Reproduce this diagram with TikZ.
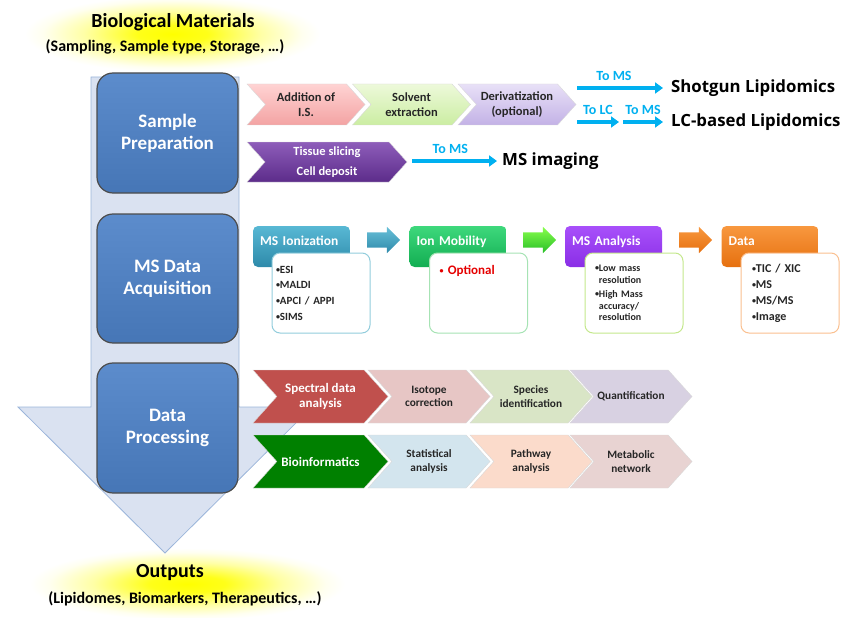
\documentclass[tikz,border=0pt]{standalone}
\usepackage{fontspec}
\setmainfont{Carlito}
\newfontfamily\widefont{Open Sans}
\usetikzlibrary{positioning, arrows.meta, calc, shapes.symbols, shapes.arrows}

\definecolor{bigfill}{HTML}{DAE2F1}
\definecolor{bigline}{HTML}{9BB5DA}
\definecolor{stagetop}{HTML}{5C8CCC}
\definecolor{stagebot}{HTML}{4676B6}
\definecolor{tocyan}{HTML}{00B0F0}
\definecolor{ionline}{HTML}{92CDDC}
\definecolor{mobline}{HTML}{A6E3B4}
\definecolor{analine}{HTML}{C4E88C}
\definecolor{dataline}{HTML}{FAC090}
\definecolor{iontop}{HTML}{58B8D4}
\definecolor{ionbot}{HTML}{2E8AAA}
\definecolor{mobtop}{HTML}{3ED87C}
\definecolor{mobbot}{HTML}{12AE52}
\definecolor{anatop}{HTML}{A850FA}
\definecolor{anabot}{HTML}{8A2EE6}
\definecolor{datatop}{HTML}{F8983F}
\definecolor{databot}{HTML}{E6700F}
\definecolor{pinktop}{HTML}{FFD3D3}
\definecolor{pinkbot}{HTML}{F3A3A3}
\definecolor{greentop}{HTML}{EDF9DA}
\definecolor{greenbot}{HTML}{CBEDA2}
\definecolor{lavtop}{HTML}{E8E0F7}
\definecolor{lavbot}{HTML}{C3B2E6}
\definecolor{plumtop}{HTML}{8E5DBA}
\definecolor{plumbot}{HTML}{5C2C8A}
\definecolor{spectred}{HTML}{C0504D}
\definecolor{isopink}{HTML}{E7C6C5}
\definecolor{specgreen}{HTML}{D9E5C6}
\definecolor{quantlav}{HTML}{D8D1E2}
\definecolor{bioinfgreen}{HTML}{008000}
\definecolor{statblue}{HTML}{D3E5EE}
\definecolor{pathpeach}{HTML}{FBDBCB}
\definecolor{metabrose}{HTML}{E8D3D2}

\pgfdeclareradialshading{yglow}{\pgfpoint{0bp}{0bp}}{%
    color(0bp)=(yellow); color(6bp)=(yellow!90); color(15bp)=(yellow!35);
    color(22bp)=(yellow!6); color(25bp)=(white); color(50bp)=(white)}

\newcommand{\dotitem}{\raisebox{0.15ex}{\fontsize{8}{8}\selectfont•}}

\begin{document}
\begin{tikzpicture}[
    x=1pt, y=-1pt,
    every node/.style={font=\bfseries},
    stage/.style={
        rectangle,
        rounded corners=16pt,
        draw=black!70,
        line width=1.2pt,
        top color=stagetop,
        bottom color=stagebot,
        text=white,
        align=center,
        minimum width=141pt,
        font=\fontsize{19}{22}\selectfont\bfseries
    },
    chev/.style={
        signal,
        signal from=west,
        signal to=east,
        signal pointer angle=96,
        draw=black!15,
        align=center,
        inner sep=0pt,
        text=black!85
    },
    prepchev/.style={chev, minimum width=118pt, minimum height=41pt,
        font=\fontsize{12.5}{15}\selectfont\bfseries},
    procchev/.style={chev, minimum width=122pt, minimum height=53pt,
        font=\fontsize{11.3}{13.5}\selectfont\bfseries},
    firstchev/.style={procchev, minimum width=135pt, text=white,
        font=\fontsize{13}{14.5}\selectfont\bfseries},
    header/.style={
        rectangle,
        rounded corners=5pt,
        minimum width=97pt,
        minimum height=41pt,
        text width=83pt,
        inner xsep=7pt,
        align=left,
        text=white,
        text height=9pt,
        text depth=12pt,
        font=\fontsize{13.5}{15}\selectfont\bfseries
    },
    itemlist/.style={
        rectangle,
        rounded corners=8pt,
        fill=white,
        line width=1pt,
        minimum width=98pt,
        minimum height=80pt,
        align=left,
        text=black!85
    },
    blockarrow/.style={
        single arrow,
        minimum height=33pt,
        single arrow head extend=5.5pt,
        inner xsep=0pt,
        inner ysep=7.5pt
    },
    cyanarrow/.style={draw=tocyan, line width=3.5pt,
        -{Triangle[length=8pt,width=11pt]}},
    tolabel/.style={text=tocyan, above=2pt,
        font=\fontsize{14}{16}\selectfont\bfseries},
    result/.style={anchor=west, inner xsep=8pt,
        font=\fontsize{16.8}{18}\selectfont\bfseries\widefont},
    glow/.style={shading=yglow}
]
\useasboundingbox (0,0) rectangle (855,618);

% glows behind the titles
\shade[glow] (25,-4) rectangle (320,72);
\shade[glow] (30,548) rectangle (345,620);

% the big downward arrow
\draw[fill=bigfill, draw=bigline, line width=0.8pt]
    (91,77) -- (239,77) -- (239,407) -- (312,407) -- (165,553)
    -- (18,407) -- (91,407) -- cycle;

\node[font=\fontsize{20}{22}\selectfont\bfseries] (biomat) at (173,22) {Biological Materials};
\node[font=\fontsize{16}{18}\selectfont\bfseries] (sampling) at (165,47) {(Sampling, Sample type, Storage, …)};
\node[font=\fontsize{20}{22}\selectfont\bfseries] (outputs) at (170,573) {Outputs};
\node[font=\fontsize{16}{18}\selectfont\bfseries] (lipidomes) at (185,599) {(Lipidomes, Biomarkers, Therapeutics, …)};

% stages
\node[stage, minimum height=120pt] (sampprep) at (167.5,133) {Sample\\Preparation};
\node[stage, minimum height=129pt] (msacq) at (167.5,278.5) {MS Data\\Acquisition};
\node[stage, minimum height=130pt] (dataproc) at (167.5,428) {Data\\Processing};

% sample preparation
\node[prepchev, top color=pinktop, bottom color=pinkbot] (addis) at (306,104.5) {Addition of\\I.S.};
\node[prepchev, top color=greentop, bottom color=greenbot] (solvent) at (411.5,104.5) {Solvent\\extraction};
\node[prepchev, top color=lavtop, bottom color=lavbot] (deriv) at (517,104.5) {Derivatization\\(optional)};
\node[prepchev, minimum width=160pt, minimum height=40pt, text=white,
    top color=plumtop, bottom color=plumbot,
    font=\fontsize{12.5}{20}\selectfont\bfseries] (slicing) at (327,162) {Tissue slicing\\Cell deposit};

\node[result] (shotgun) at (663,88) {Shotgun Lipidomics};
\node[result] (lcbased) at (663,122) {LC-based Lipidomics};
\node[result, inner xsep=5pt] (msimg) at (497,161) {MS imaging};

\coordinate (sgfrom) at (577,88);
\coordinate (lcfrom) at (577,122);
\coordinate (lcmid) at (619,122);
\coordinate (lcnext) at (623,122);
\coordinate (imgfrom) at (412,161);

\draw[cyanarrow] (sgfrom) -- node[tolabel, pos=0.43] {To MS} (shotgun.west);
\draw[cyanarrow] (lcfrom) -- node[tolabel] {To LC} (lcmid);
\draw[cyanarrow] (lcnext) -- node[tolabel] {To MS} (lcbased.west);
\draw[cyanarrow] (imgfrom) -- node[tolabel, pos=0.45] {To MS} (msimg.west);

% MS data acquisition
\node[header, top color=iontop, bottom color=ionbot] (ioniz) at (301.5,246.5) {MS Ionization};
\node[header, top color=mobtop, bottom color=mobbot] (ionmob) at (458,246.5) {Ion Mobility};
\node[header, top color=anatop, bottom color=anabot] (msana) at (613.5,246.5) {MS Analysis};
\node[header, top color=datatop, bottom color=databot] (datahd) at (770,246.5) {Data};

\node[itemlist, draw=ionline, text width=90pt, inner xsep=4pt,
    font=\fontsize{11}{15.7}\selectfont\bfseries] (ionizlist) at (321,293)
    {\dotitem ESI\\\dotitem MALDI\\\dotitem APCI / APPI\\\dotitem SIMS};
\node[itemlist, draw=mobline, text width=78pt, inner xsep=10pt,
    text height=9pt, text depth=46pt, text=red!90!black,
    font=\fontsize{13}{15}\selectfont\bfseries] (moblist) at (478.5,293)
    {\dotitem\ Optional};
\node[itemlist, draw=analine, text width=78pt, inner xsep=10pt,
    font=\fontsize{10}{11.5}\selectfont\bfseries] (analist) at (634,293)
    {\dotitem Low mass\\\phantom{\dotitem}resolution\\[3pt]\dotitem High Mass\\\phantom{\dotitem}accuracy/\\\phantom{\dotitem}resolution};
\node[itemlist, draw=dataline, text width=76pt, inner xsep=10pt,
    font=\fontsize{12}{16}\selectfont\bfseries] (datalist) at (790,293)
    {\dotitem TIC / XIC\\\dotitem MS\\\dotitem MS/MS\\\dotitem Image};

\node[blockarrow, top color=iontop!90!white, bottom color=ionbot] (arrone)
    at ([yshift=6.5pt]$(ioniz.east)!0.5!(ionmob.west)$) {};
\node[blockarrow, top color=green!55!lime!70!white, bottom color=green!70!black!85] (arrtwo)
    at ([yshift=6.5pt]$(ionmob.east)!0.5!(msana.west)$) {};
\node[blockarrow, top color=datatop, bottom color=databot] (arrthree)
    at ([yshift=6.5pt]$(msana.east)!0.5!(datahd.west)$) {};

% data processing
\node[firstchev, fill=spectred] (spectral) at (320.5,396.5) {Spectral data\\analysis};
\node[procchev, fill=isopink] (isotope) at (429,396.5) {Isotope\\correction};
\node[procchev, fill=specgreen] (species) at (531,396.5) {Species\\identification};
\node[procchev, fill=quantlav] (quant) at (631,396.5) {Quantification};

\node[firstchev, fill=bioinfgreen] (bioinf) at (320.5,461.5) {Bioinformatics};
\node[procchev, fill=statblue] (statis) at (429,461.5) {Statistical\\analysis};
\node[procchev, fill=pathpeach] (pathway) at (531,461.5) {Pathway\\analysis};
\node[procchev, fill=metabrose] (metab) at (631,461.5) {Metabolic\\network};

\end{tikzpicture}
\end{document}
